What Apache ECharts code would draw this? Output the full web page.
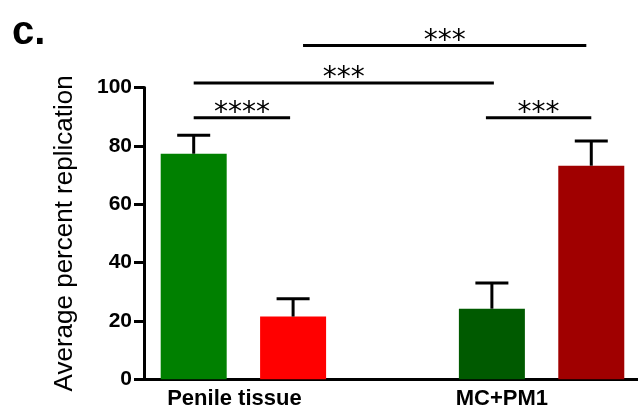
<!DOCTYPE html>
<html>
<head>
<meta charset="utf-8">
<script src="https://cdn.jsdelivr.net/npm/echarts@6/dist/echarts.min.js"></script>
<style>
  html, body { margin: 0; padding: 0; background: #fff; }
  #chart { width: 638px; height: 415px; }
</style>
</head>
<body>
<div id="chart"></div>
<script>
// 数据
const barPos = [0, 1, 3, 4]
const barMean = [77.3, 21.5, 24.2, 73.2]
const barUpper = [83.6, 27.6, 33.0, 81.7]
const barColors = ['#008000', '#ff0000', '#005a00', '#a00000']

const groupPos = [0.41, 3.1]
const groupNames = ['Penile tissue', 'MC+PM1']

const yTicks = [0, 20, 40, 60, 80, 100]

// 显著性标记: 起点, 终点, 高度
const sigFrom = [0, 0, 1.1, 2.94]
const sigTo = [0.97, 3.02, 3.95, 4.0]
const sigY = [89.6, 101.5, 114.4, 89.6]
const sigText = ['****', '***', '***', '***']

var myChart = echarts.init(document.getElementById('chart'))

const getBars = () => {
  return barPos.map((x, i) => {
    return {
      value: [x, barMean[i]],
      itemStyle: { color: barColors[i] }
    }
  })
}

let option = {
  animation: false,
  title: {
    text: 'c.',
    left: 7,
    top: 8,
    textStyle: {
      color: '#000',
      fontSize: 40,
      fontWeight: 'bold',
      fontFamily: 'Arial'
    }
  },
  grid: {
    left: 144,
    right: 0,
    top: 87.5,
    bottom: 35.7,
    containLabel: false
  },
  xAxis: {
    type: 'value',
    min: -0.5,
    max: 4.47,
    splitLine: { show: false },
    axisTick: { show: false },
    axisLine: {
      onZero: false,
      lineStyle: { color: '#000', width: 3 }
    },
    axisLabel: {
      customValues: groupPos,
      margin: 9,
      color: '#000',
      fontSize: 22,
      fontWeight: 'bold',
      fontFamily: 'Arial',
      formatter: value => {
        let idx = groupPos.findIndex(p => Math.abs(p - value) < 1e-6)
        return idx >= 0 ? groupNames[idx] : ''
      }
    }
  },
  yAxis: {
    type: 'value',
    min: 0,
    max: 100,
    interval: 20,
    name: 'Average percent replication',
    nameLocation: 'middle',
    nameGap: 66,
    nameTextStyle: {
      color: '#000',
      fontSize: 26,
      fontFamily: 'Arial'
    },
    splitLine: { show: false },
    axisLine: {
      show: true,
      onZero: false,
      lineStyle: { color: '#000', width: 3 }
    },
    axisTick: {
      show: true,
      length: 10,
      lineStyle: { color: '#000', width: 3 }
    },
    axisLabel: {
      margin: 12,
      color: '#000',
      fontSize: 21,
      fontWeight: 'bold',
      fontFamily: 'Arial'
    }
  },
  series: [
    {
      type: 'bar',
      barWidth: 66,
      data: getBars(),
      z: 2
    },
    {
      // 误差线
      type: 'custom',
      clip: false,
      z: 3,
      encode: { x: 0, y: [1, 2] },
      data: barPos.map((x, i) => [x, barMean[i], barUpper[i]]),
      renderItem: (params, api) => {
        const low = api.coord([api.value(0), api.value(1)])
        const high = api.coord([api.value(0), api.value(2)])
        const half = 16.5
        const style = { stroke: '#000', lineWidth: 3 }
        return {
          type: 'group',
          children: [
            { type: 'line', shape: { x1: low[0], y1: low[1], x2: high[0], y2: high[1] }, style },
            { type: 'line', shape: { x1: high[0] - half, y1: high[1], x2: high[0] + half, y2: high[1] }, style }
          ]
        }
      }
    },
    {
      // 显著性标记
      type: 'custom',
      clip: false,
      z: 3,
      encode: { x: [0, 1], y: 2 },
      data: sigFrom.map((x, i) => [x, sigTo[i], sigY[i], i]),
      renderItem: (params, api) => {
        const a = api.coord([api.value(0), api.value(2)])
        const b = api.coord([api.value(1), api.value(2)])
        const idx = api.value(3)
        return {
          type: 'group',
          children: [
            {
              type: 'line',
              shape: { x1: a[0], y1: a[1], x2: b[0], y2: a[1] },
              style: { stroke: '#000', lineWidth: 3 }
            },
            {
              type: 'text',
              style: {
                x: (a[0] + b[0]) / 2,
                y: a[1] - 4,
                text: sigText[idx],
                fill: '#000',
                fontSize: 28,
                fontFamily: 'DejaVu Sans',
                align: 'center',
                verticalAlign: 'middle'
              }
            }
          ]
        }
      }
    }
  ]
}

myChart.setOption(option)
window.onresize = function () {
  myChart.resize()
}
</script>
</body>
</html>
